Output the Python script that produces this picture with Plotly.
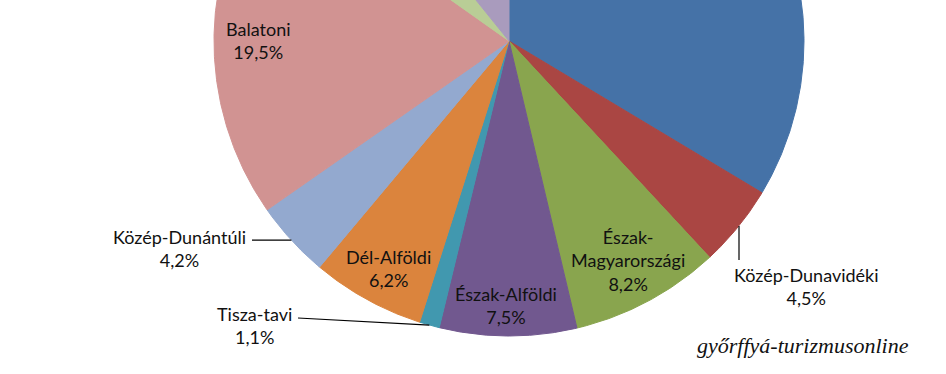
import numpy as np
import plotly.graph_objects as go

# ---- data ----
regions = ["Budapest", "Közép-Dunavidéki", "Észak-Magyarországi", "Észak-Alföldi",
           "Tisza-tavi", "Dél-Alföldi", "Közép-Dunántúli", "Balatoni",
           "Dél-Dunántúli", "Nyugat-Dunántúli"]
shares = [33.6, 4.5, 8.2, 7.5, 1.1, 6.2, 4.2, 19.5, 4.4, 10.8]
label_names = ["", "Közép-Dunavidéki", "Észak-<br>Magyarországi", "Észak-Alföldi",
               "Tisza-tavi", "Dél-Alföldi", "Közép-Dunántúli", "Balatoni", "", ""]
watermark = "győrffyá-turizmusonline"

# ---- styles / layout ----
colors = ["#4572A7", "#AA4643", "#89A54E", "#71588F", "#4198AF", "#DB843D",
          "#93A9CF", "#D19392", "#B9CD96", "#A99BBD"]
CX, CY, R = 509, 41, 295
W, H = 946, 374
label_pos = {  # annotation block centres (pixels)
    "Közép-Dunavidéki": (806, 286),
    "Észak-Magyarországi": (628, 260),
    "Észak-Alföldi": (506, 305),
    "Tisza-tavi": (254, 325),
    "Dél-Alföldi": (388, 268),
    "Közép-Dunántúli": (179, 248),
    "Balatoni": (258, 40),
}

def pt(theta_deg, r=R):
    t = np.radians(theta_deg)
    return CX + r * np.sin(t), CY - r * np.cos(t)

fig = go.Figure()
total = sum(shares)
start = 0.0
for name, val, col in zip(regions, shares, colors):
    a0 = start
    a1 = start + val / total * 360.0
    ang = np.linspace(a0, a1, max(int((a1 - a0) * 2) + 2, 3))
    xs, ys = pt(ang)
    x = np.concatenate([[CX], xs, [CX]])
    y = np.concatenate([[CY], ys, [CY]])
    fig.add_trace(go.Scatter(x=x, y=y, mode="lines", fill="toself", fillcolor=col,
                             line=dict(color=col, width=1), hoverinfo="skip",
                             showlegend=False, name=name))
    start = a1

# labels
for name, lab, val in zip(regions, label_names, shares):
    if name in label_pos:
        lx, ly = label_pos[name]
        txt = f"{lab}<br>{val:.1f}%".replace(".", ",")
        fig.add_annotation(x=lx, y=ly, xref="x", yref="y", text=txt, showarrow=False,
                           xanchor="center", yanchor="middle", align="center",
                           font=dict(family="Lato", size=18, color="#111111"))

# leader lines
cum = np.cumsum([0] + shares) / total * 360.0
mid = {n: (cum[i] + cum[i + 1]) / 2 for i, n in enumerate(regions)}
ex, ey = pt(mid["Közép-Dunántúli"])
fig.add_shape(type="line", x0=252, y0=ey, x1=ex, y1=ey, line=dict(color="black", width=1.2))
ex, ey = pt(mid["Tisza-tavi"])
fig.add_shape(type="line", x0=298, y0=318, x1=ex, y1=ey, line=dict(color="black", width=1.2))
fig.add_shape(type="line", x0=739, y0=226, x1=739, y1=260, line=dict(color="black", width=1.2))

fig.add_annotation(x=803, y=345, xref="x", yref="y", text=f"<i>{watermark}</i>",
                   showarrow=False, xanchor="center", yanchor="middle",
                   font=dict(family="Liberation Serif", size=22, color="#111111"))

fig.update_xaxes(range=[0, W], visible=False, fixedrange=True)
fig.update_yaxes(range=[H, 0], visible=False, fixedrange=True)
fig.update_layout(width=W, height=H, margin=dict(l=0, r=0, t=0, b=0),
                  paper_bgcolor="white", plot_bgcolor="white")
fig.write_html("out.html", config={"displayModeBar": False},
               post_script="document.body.style.margin='0';document.body.style.overflow='hidden';")
